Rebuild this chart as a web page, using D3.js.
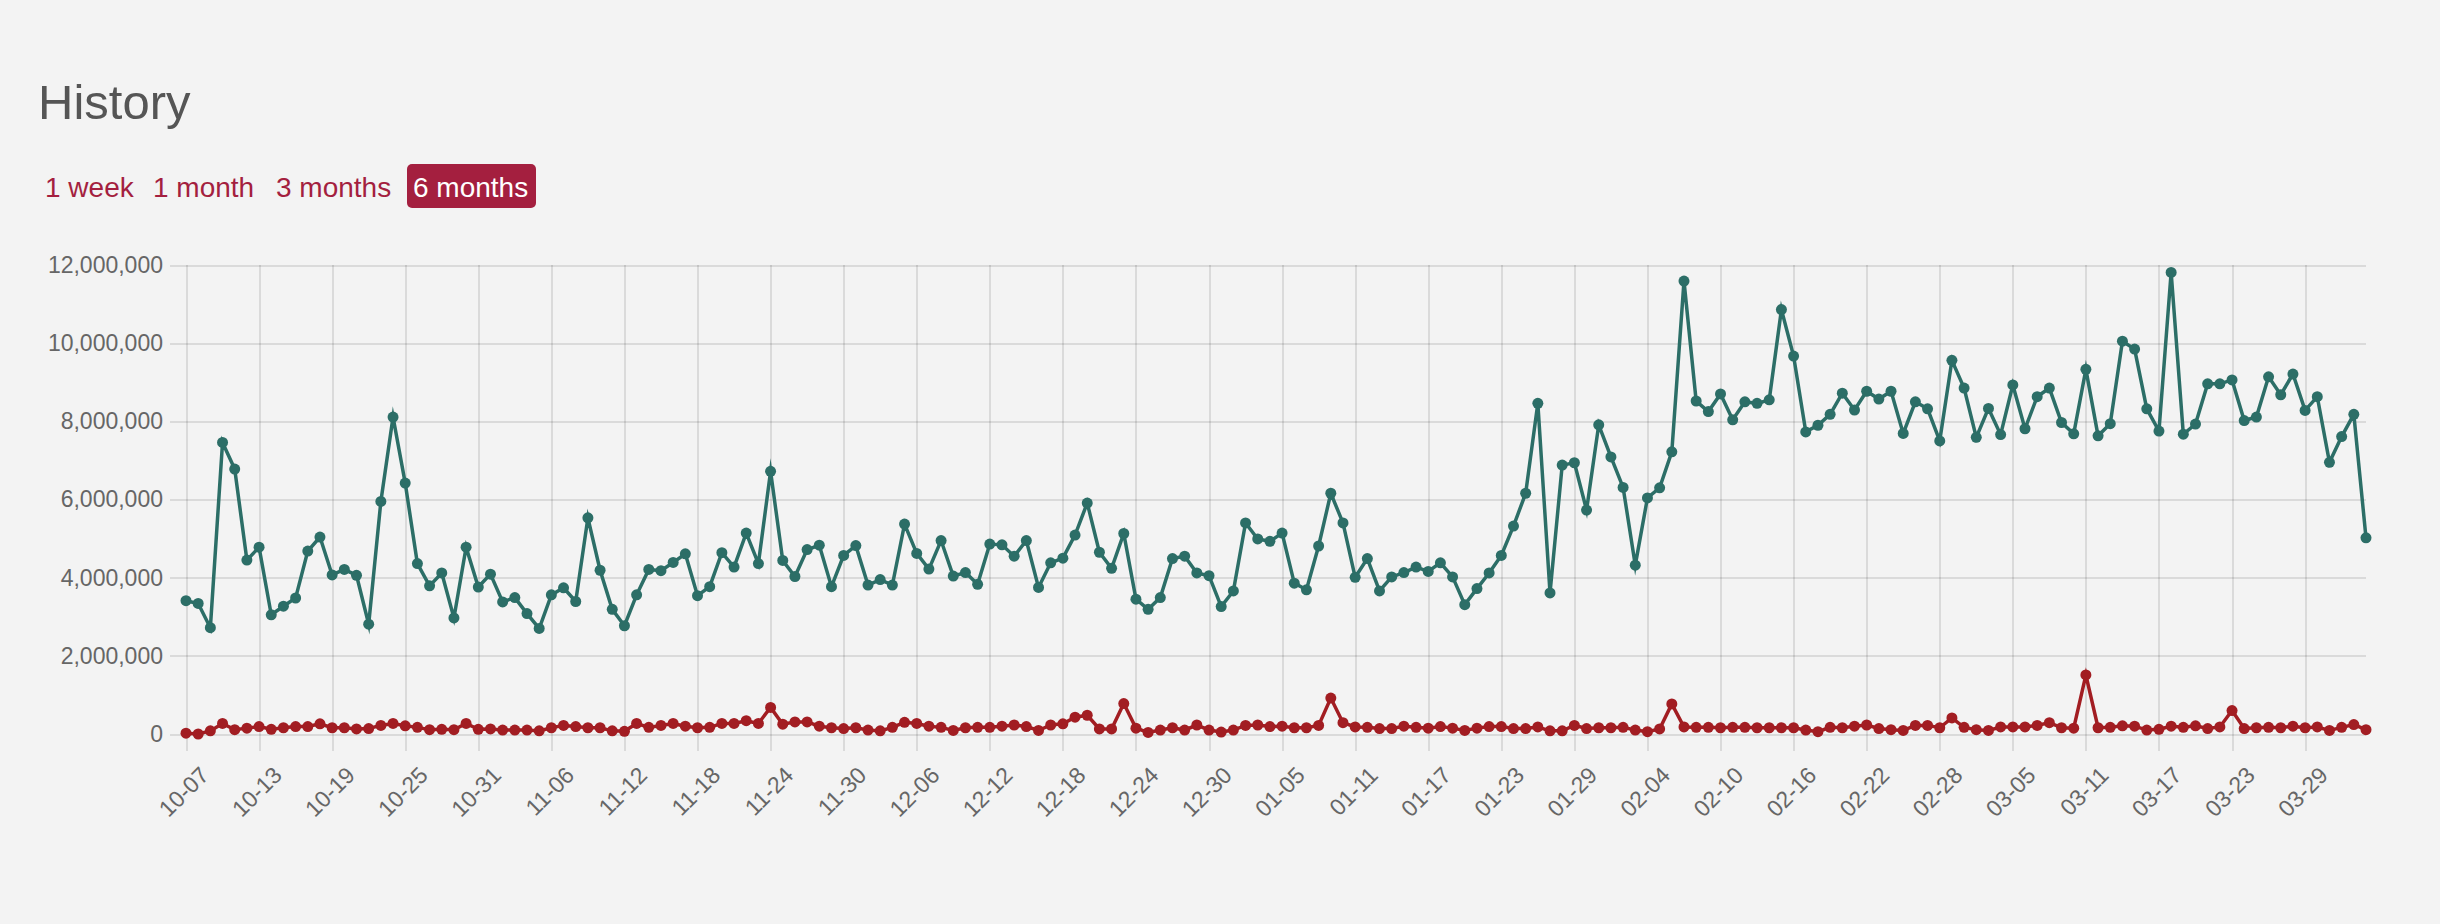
<!DOCTYPE html>
<html>
<head>
<meta charset="utf-8">
<script src="https://cdn.jsdelivr.net/npm/d3@7"></script>
<style>
  html, body { margin: 0; padding: 0; background: #f3f3f3; }
  svg { display: block; font-family: "Liberation Sans", Arial, Helvetica, sans-serif; }
  .grid line { stroke: rgba(0,0,0,0.1); stroke-width: 2; shape-rendering: crispEdges; }
  .grid text { fill: #666; font-size: 23px; }
</style>
</head>
<body>
<svg id="chart" width="2440" height="924"></svg>
<script>
// daily values, in millions, 2023-10-07 .. 2024-04-03
const startDay = new Date(2023, 9, 7);
const endDay = new Date(2024, 3, 3);

const seriesA = [
  // Oct
  3.41, 3.34, 2.72, 7.46, 6.78, 4.45, 4.78, 3.05, 3.27, 3.48, 4.68, 5.04, 4.07, 4.21, 4.06, 2.81, 5.95, 8.11, 6.42, 4.36, 3.79, 4.12, 2.97, 4.78, 3.76,
  // Nov
  4.09, 3.38, 3.49, 3.08, 2.70, 3.56, 3.74, 3.39, 5.53, 4.19, 3.19, 2.77, 3.56, 4.21, 4.18, 4.39, 4.61, 3.54, 3.77, 4.64, 4.27, 5.14, 4.36, 6.72, 4.44, 4.03, 4.72, 4.83, 3.77, 4.57,
  // Dec
  4.82, 3.81, 3.95, 3.81, 5.37, 4.62, 4.22, 4.95, 4.04, 4.13, 3.83, 4.86, 4.84, 4.55, 4.95, 3.75, 4.38, 4.50, 5.09, 5.91, 4.65, 4.24, 5.13, 3.45, 3.19, 3.49, 4.49, 4.55, 4.12, 4.05, 3.26,
  // Jan
  3.66, 5.40, 4.99, 4.93, 5.14, 3.86, 3.69, 4.81, 6.16, 5.40, 4.01, 4.49, 3.66, 4.02, 4.13, 4.27, 4.16, 4.38, 4.02, 3.31, 3.72, 4.12, 4.57, 5.32, 6.16, 8.46, 3.61, 6.88, 6.94, 5.73, 7.91,
  // Feb
  7.09, 6.31, 4.32, 6.04, 6.30, 7.22, 11.59, 8.52, 8.25, 8.70, 8.04, 8.50, 8.46, 8.55, 10.86, 9.67, 7.73, 7.90, 8.18, 8.72, 8.29, 8.77, 8.57, 8.77, 7.69, 8.50, 8.32, 7.50, 9.56,
  // Mar
  8.85, 7.59, 8.33, 7.66, 8.93, 7.81, 8.63, 8.85, 7.97, 7.68, 9.33, 7.63, 7.94, 10.05, 9.85, 8.32, 7.75, 11.81, 7.67, 7.93, 8.96, 8.96, 9.06, 8.02, 8.11, 9.14, 8.68, 9.21, 8.28, 8.63, 6.95,
  // Apr
  7.61, 8.18, 5.02
];

const seriesB = [
  0.02, 0.00, 0.08, 0.27, 0.11, 0.15, 0.19, 0.12, 0.16, 0.19, 0.19, 0.26, 0.16, 0.16, 0.13, 0.14, 0.22, 0.27, 0.21, 0.17, 0.11, 0.12, 0.11, 0.27, 0.12,
  0.13, 0.10, 0.10, 0.10, 0.08, 0.16, 0.22, 0.19, 0.16, 0.16, 0.08, 0.07, 0.27, 0.17, 0.22, 0.27, 0.20, 0.16, 0.17, 0.27, 0.27, 0.34, 0.27, 0.68, 0.25, 0.31, 0.31, 0.20, 0.16, 0.14,
  0.16, 0.10, 0.08, 0.17, 0.30, 0.27, 0.20, 0.17, 0.09, 0.16, 0.17, 0.17, 0.20, 0.23, 0.19, 0.09, 0.23, 0.26, 0.43, 0.48, 0.13, 0.13, 0.78, 0.15, 0.04, 0.10, 0.16, 0.10, 0.23, 0.10, 0.05,
  0.10, 0.22, 0.23, 0.19, 0.20, 0.16, 0.16, 0.22, 0.92, 0.29, 0.18, 0.17, 0.14, 0.14, 0.20, 0.17, 0.15, 0.19, 0.15, 0.09, 0.15, 0.19, 0.19, 0.14, 0.14, 0.18, 0.08, 0.08, 0.22, 0.14, 0.16,
  0.16, 0.17, 0.10, 0.06, 0.13, 0.77, 0.18, 0.17, 0.17, 0.16, 0.17, 0.17, 0.16, 0.16, 0.16, 0.16, 0.10, 0.06, 0.17, 0.16, 0.20, 0.23, 0.14, 0.11, 0.09, 0.22, 0.22, 0.16, 0.41,
  0.17, 0.11, 0.09, 0.18, 0.18, 0.18, 0.22, 0.29, 0.16, 0.15, 1.51, 0.16, 0.17, 0.21, 0.20, 0.10, 0.12, 0.20, 0.17, 0.21, 0.14, 0.18, 0.60, 0.14, 0.16, 0.17, 0.16, 0.20, 0.16, 0.18, 0.09,
  0.17, 0.24, 0.11
];

const yTicks = [0, 2, 4, 6, 8, 10, 12];
const rangeLinks = ["1 week", "1 month", "3 months", "6 months"];
const activeRange = "6 months";

const days = d3.timeDay.range(startDay, d3.timeDay.offset(endDay, 1));
const xTicks = days.filter((d, i) => i % 6 === 0);

const colorA = "#2c6e67";
const colorB = "#a21d22";
const linkColor = "#a41f3f";

const svg = d3.select("#chart");

// header
svg.append("text")
    .attr("x", 38).attr("y", 119)
    .attr("font-size", 49).attr("fill", "#555")
    .text("History");

const linkX = [45, 153, 276, 413];
rangeLinks.forEach((label, i) => {
    if (label === activeRange) {
        svg.append("rect")
            .attr("x", linkX[i] - 6).attr("y", 164)
            .attr("width", 129).attr("height", 44)
            .attr("rx", 5).attr("fill", linkColor);
    }
    svg.append("text")
        .attr("x", linkX[i]).attr("y", 197)
        .attr("font-size", 28)
        .attr("fill", label === activeRange ? "#fff" : linkColor)
        .text(label);
});

// chart
const plotLeft = 186, plotRight = 2366, plotTop = 265, plotBottom = 734;

const x = d3.scaleTime().domain([startDay, endDay]).range([plotLeft, plotRight]);
const y = d3.scaleLinear().domain([0, 12]).range([plotBottom, plotTop]);

const yAxis = svg.append("g")
    .attr("class", "grid")
    .attr("transform", `translate(${plotRight},0)`)
    .call(d3.axisLeft(y).tickValues(yTicks).tickSize(plotRight - 170).tickPadding(7)
        .tickFormat(d => d3.format(",")(d * 1e6)));
yAxis.select(".domain").remove();
yAxis.selectAll("line").filter(d => d === 0).attr("stroke", "rgba(0,0,0,0.14)");

const xAxis = svg.append("g")
    .attr("class", "grid")
    .attr("transform", `translate(0,${plotTop})`)
    .call(d3.axisBottom(x).tickValues(xTicks).tickSize(plotBottom - plotTop + 17)
        .tickFormat(d3.timeFormat("%m-%d")));
xAxis.select(".domain").remove();
xAxis.selectAll("text")
    .attr("x", 0).attr("y", 0).attr("dy", "0.35em")
    .attr("text-anchor", "end")
    .attr("transform", `translate(18,${plotBottom - plotTop + 37}) rotate(-45)`);

function drawSeries(values, color) {
    const pts = values.map((v, i) => ({ date: days[i], value: v }));
    const g = svg.append("g");
    g.append("path")
        .datum(pts)
        .attr("fill", "none")
        .attr("stroke", color)
        .attr("stroke-width", 3.5)
        .attr("stroke-linejoin", "miter")
        .attr("stroke-miterlimit", 10)
        .attr("d", d3.line().x(d => x(d.date)).y(d => y(d.value)));
    g.selectAll("circle")
        .data(pts).enter().append("circle")
        .attr("cx", d => x(d.date))
        .attr("cy", d => y(d.value))
        .attr("r", 5.5)
        .attr("fill", color);
}

drawSeries(seriesB, colorB);
drawSeries(seriesA, colorA);
</script>
</body>
</html>
